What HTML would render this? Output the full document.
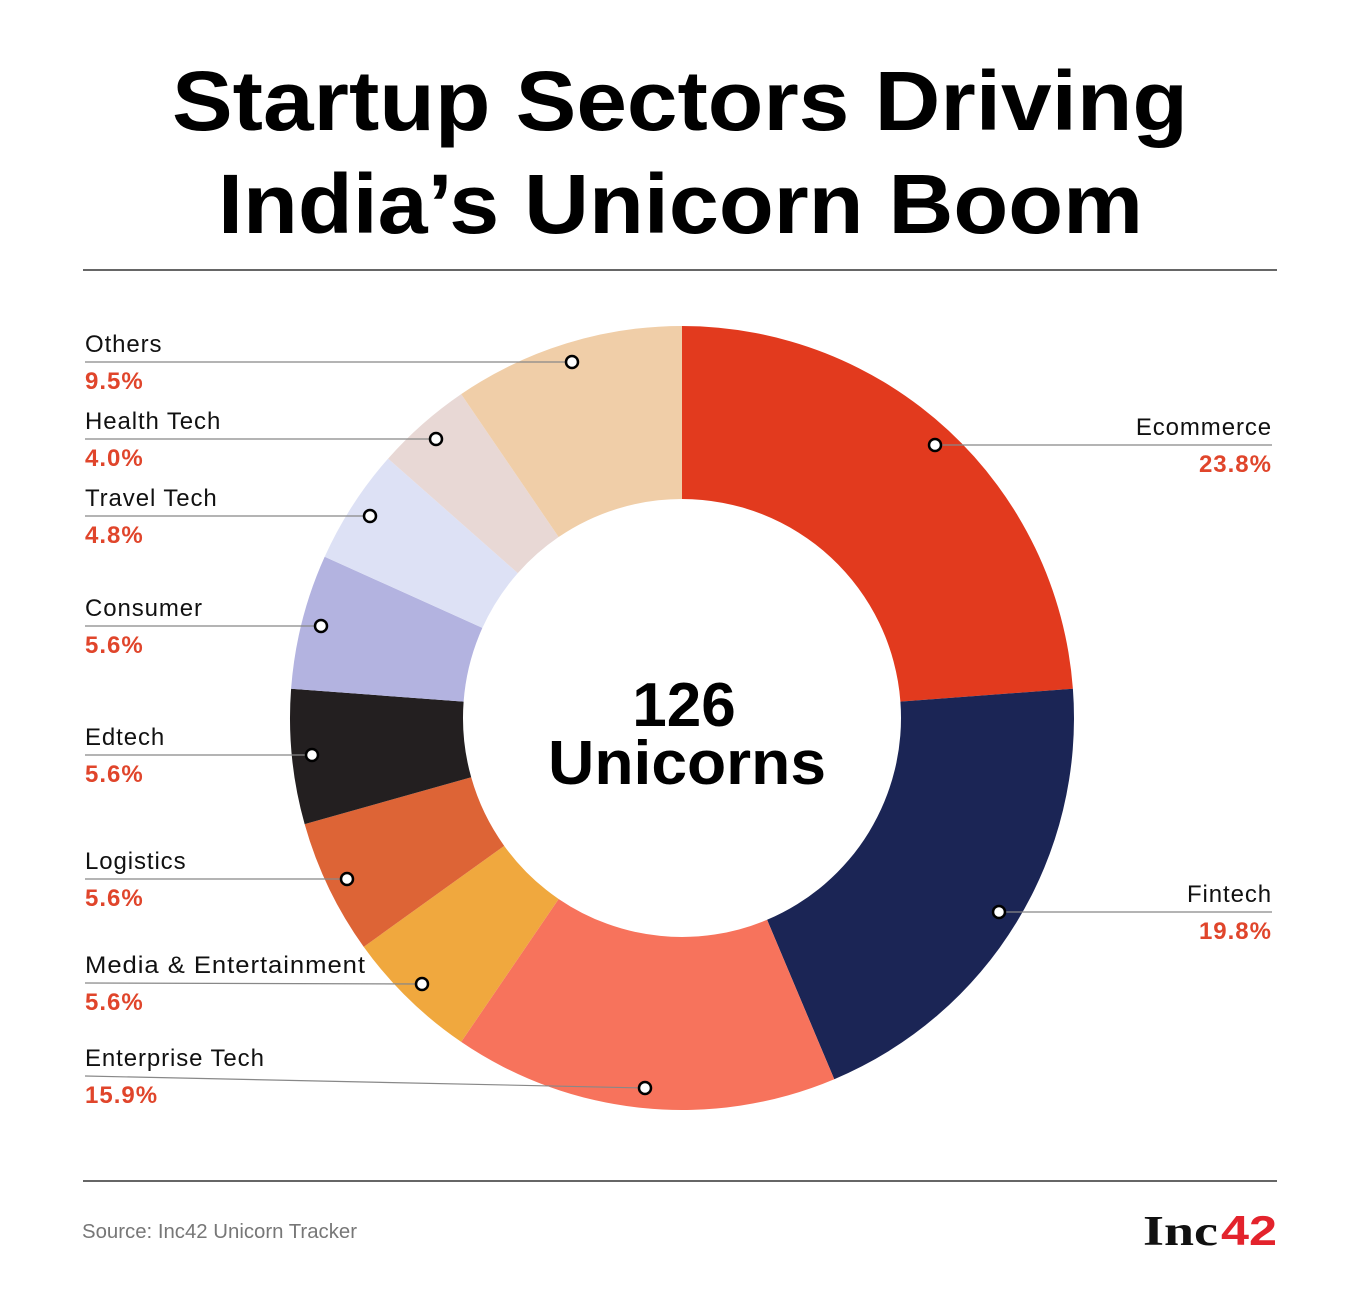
<!DOCTYPE html>
<html><head><meta charset="utf-8"><style>
body{margin:0;background:#fff;}
svg{display:block;font-family:"Liberation Sans",sans-serif;}
</style></head><body>
<svg id="s" width="1360" height="1292" viewBox="0 0 1360 1292">
<rect width="1360" height="1292" fill="#fff"/>
<text x="172" y="130" font-size="84" font-weight="bold" fill="#000" textLength="1016" lengthAdjust="spacingAndGlyphs">Startup Sectors Driving</text>
<text x="218" y="233" font-size="84" font-weight="bold" fill="#000" textLength="925" lengthAdjust="spacingAndGlyphs">India’s Unicorn Boom</text>
<line x1="83" y1="270" x2="1277" y2="270" stroke="#333" stroke-width="1.5"/>
<line x1="83" y1="1181" x2="1277" y2="1181" stroke="#333" stroke-width="1.5"/>
<g id="donut"></g>
<text x="684" y="726" text-anchor="middle" font-size="62" font-weight="bold">126</text>
<text x="687" y="784" text-anchor="middle" font-size="62" font-weight="bold" textLength="278" lengthAdjust="spacingAndGlyphs">Unicorns</text>
<g stroke="#888" stroke-width="1.2">
<line x1="85" y1="362" x2="572" y2="362"/>
<line x1="85" y1="439" x2="436" y2="439"/>
<line x1="85" y1="516" x2="370" y2="516"/>
<line x1="85" y1="626" x2="321" y2="626"/>
<line x1="85" y1="755" x2="312" y2="755"/>
<line x1="85" y1="879" x2="347" y2="879"/>
<line x1="85" y1="983" x2="422" y2="984"/>
<line x1="85" y1="1076" x2="645" y2="1088"/>
<line x1="935" y1="445" x2="1272" y2="445"/>
<line x1="999" y1="912" x2="1272" y2="912"/>
</g>
<g fill="#fff" stroke="#000" stroke-width="2.5">
<circle cx="572" cy="362" r="6"/><circle cx="436" cy="439" r="6"/><circle cx="370" cy="516" r="6"/>
<circle cx="321" cy="626" r="6"/><circle cx="312" cy="755" r="6"/><circle cx="347" cy="879" r="6"/>
<circle cx="422" cy="984" r="6"/><circle cx="645" cy="1088" r="6"/><circle cx="935" cy="445" r="6"/><circle cx="999" cy="912" r="6"/>
</g>
<g font-size="24" fill="#111" letter-spacing="0.9">
<text x="85" y="352">Others</text>
<text x="85" y="429">Health Tech</text>
<text x="85" y="506">Travel Tech</text>
<text x="85" y="616">Consumer</text>
<text x="85" y="745">Edtech</text>
<text x="85" y="869">Logistics</text>
<text x="85" y="973" textLength="281" lengthAdjust="spacingAndGlyphs">Media &amp; Entertainment</text>
<text x="85" y="1066">Enterprise Tech</text>
<text x="1272" y="435" text-anchor="end">Ecommerce</text>
<text x="1272" y="902" text-anchor="end">Fintech</text>
</g>
<g font-size="24" fill="#E0452B" font-weight="bold" letter-spacing="1">
<text x="85" y="389">9.5%</text>
<text x="85" y="466">4.0%</text>
<text x="85" y="543">4.8%</text>
<text x="85" y="653">5.6%</text>
<text x="85" y="782">5.6%</text>
<text x="85" y="906">5.6%</text>
<text x="85" y="1010">5.6%</text>
<text x="85" y="1103">15.9%</text>
<text x="1272" y="472" text-anchor="end">23.8%</text>
<text x="1272" y="939" text-anchor="end">19.8%</text>
</g>
<text x="82" y="1238" font-size="20" fill="#777" textLength="275" lengthAdjust="spacingAndGlyphs">Source: Inc42 Unicorn Tracker</text>
<text x="1143" y="1245" font-size="42" font-weight="bold" font-family="Liberation Serif,serif" fill="#111" textLength="75" lengthAdjust="spacingAndGlyphs">Inc</text>
<text x="1221" y="1245" font-size="42" font-weight="bold" fill="#E3232C" textLength="56" lengthAdjust="spacingAndGlyphs">42</text>
</svg>
<script>
var cx=682,cy=718,R=392,r=219;
var d=[[30,"#E23A1E"],[25,"#1B2555"],[20,"#F7735C"],[7,"#F0A83E"],[7,"#DD6436"],[7,"#231F20"],[7,"#B3B3E0"],[6,"#DDE1F5"],[5,"#E8D8D5"],[12,"#F0CEA8"]];
var g=document.getElementById("donut"),a=0,h="";
function p(rad,ang){return (cx+rad*Math.sin(ang)).toFixed(2)+" "+(cy-rad*Math.cos(ang)).toFixed(2);}
d.forEach(function(s){var a0=a/126*2*Math.PI;a+=s[0];var a1=a/126*2*Math.PI;var l=(a1-a0)>Math.PI?1:0;
h+='<path fill="'+s[1]+'" d="M'+p(R,a0)+' A'+R+' '+R+' 0 '+l+' 1 '+p(R,a1)+' L'+p(r,a1)+' A'+r+' '+r+' 0 '+l+' 0 '+p(r,a0)+' Z"/>';});
g.innerHTML=h;
</script>
</body></html>
